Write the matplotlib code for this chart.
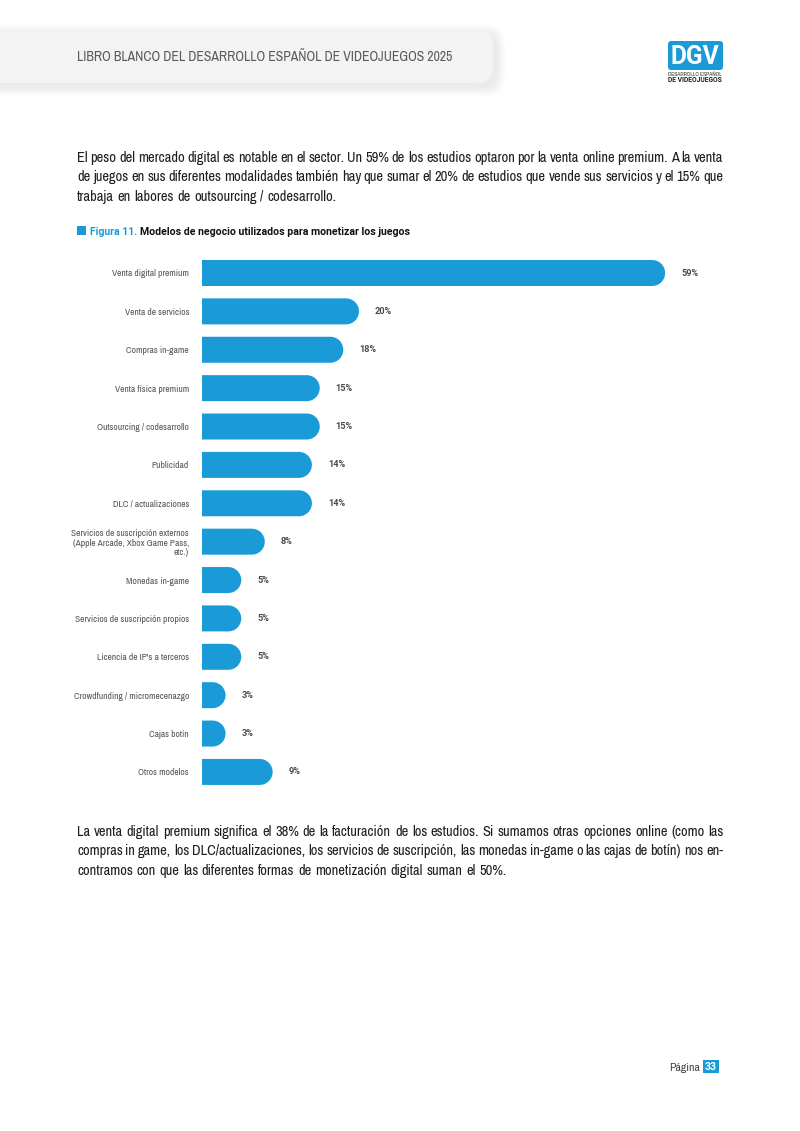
import matplotlib
matplotlib.use("Agg")
import matplotlib.pyplot as plt
from matplotlib import font_manager
from matplotlib.patches import FancyBboxPatch, Rectangle, PathPatch
from matplotlib.path import Path
import numpy as np

# fonts: the page uses a condensed face, take a narrow one if there is any
ttf = font_manager.fontManager.ttflist
narrow = sorted({f.name for f in ttf
                 if 'narrow' in f.name.lower() or 'condensed' in f.name.lower()})
FONT = narrow[0] if narrow else 'Liberation Sans'
NARROW = bool(narrow)


def is_bold(f):
    w = f.weight
    return (isinstance(w, int) and w >= 600) or str(w).lower() in ('bold', 'heavy', 'black', 'semibold', 'demibold')


has_bold = any(f.name == FONT and is_bold(f) for f in ttf)
names = {f.name for f in ttf}
BFONT = FONT if has_bold else ('Roboto' if 'Roboto' in names else 'Liberation Sans')
plt.rcParams['font.family'] = [FONT, 'DejaVu Sans']
BFAM = [BFONT, 'DejaVu Sans']
k = 1.0 if NARROW else 0.86   # shrink a bit when only a normal width face exists

BLUE = '#1a9bd7'
GREY = '#555555'

# data
categories = ["Venta digital premium", "Venta de servicios", "Compras in-game",
              "Venta física premium", "Outsourcing / codesarrollo", "Publicidad",
              "DLC / actualizaciones",
              "Servicios de suscripción externos\n(Apple Arcade, Xbox Game Pass,\netc.)",
              "Monedas in-game", "Servicios de suscripción propios",
              "Licencia de IP's a terceros", "Crowdfunding / micromecenazgo",
              "Cajas botín", "Otros modelos"]
values = [59, 20, 18, 15, 15, 14, 14, 8, 5, 5, 5, 3, 3, 9]

header = "LIBRO BLANCO DEL DESARROLLO ESPAÑOL DE VIDEOJUEGOS 2025"
intro = ["El peso del mercado digital es notable en el sector. Un 59% de los estudios optaron por la venta online premium. A la venta",
         "de juegos en sus diferentes modalidades también hay que sumar el 20% de estudios que vende sus servicios y el 15% que",
         "trabaja en labores de outsourcing / codesarrollo."]
outro = ["La venta digital premium significa el 38% de la facturación de los estudios. Si sumamos otras opciones online (como las",
         "compras in game, los DLC/actualizaciones, los servicios de suscripción, las monedas in-game o las cajas de botín) nos en-",
         "contramos con que las diferentes formas de monetización digital suman el 50%."]
fig_num = "Figura 11."
fig_title = "Modelos de negocio utilizados para monetizar los juegos"
page = "33"

W, H = 800, 1131
fig = plt.figure(figsize=(W / 100, H / 100), dpi=100)
bg = fig.add_axes([0, 0, 1, 1])
bg.set_xlim(0, W)
bg.set_ylim(H, 0)
bg.axis('off')
r = fig.canvas.get_renderer()


def fit_text(x, y, s, width, size, **kw):
    # draw text and shrink it if it runs wider than the page version
    t = bg.text(x, y, s, fontsize=size, **kw)
    w = t.get_window_extent(r).width
    if w > width:
        t.set_fontsize(size * width / w)
    return t


# header band with soft shadow
for i in range(10):
    g = 2 + i * 1.8
    bg.add_patch(FancyBboxPatch((-40 + 3 - g * 0.2, 30 + 4 - g / 2), 533 + g * 0.7, 53 + g,
                                boxstyle="round,pad=0,rounding_size=18",
                                fc='#9a9aae', ec='none', alpha=0.02))
bg.add_patch(FancyBboxPatch((-40, 30), 533, 53, boxstyle="round,pad=0,rounding_size=15",
                            fc='#f3f3f4', ec='none'))
fit_text(77, 61, header, 377, 10.5, color='#5a5a5a', va='baseline')

# logo
bg.add_patch(FancyBboxPatch((668, 41), 55, 29, boxstyle="round,pad=0,rounding_size=3",
                            fc=BLUE, ec='none'))
fit_text(671, 56.5, "DGV", 49, 19, family=BFAM, fontweight='bold', color='white', va='center')
fit_text(668, 74, "DESARROLLO ESPAÑOL", 55, 4.6, color='#333333', va='center')
fit_text(668, 80, "DE VIDEOJUEGOS", 55, 5.4, family=BFAM, fontweight='bold',
         color='#222222', va='center')


def justify(lines, x0, x1, y0, dy, size, color):
    # place words one by one so that the lines fill the column like the page
    rows = []
    for line in lines:
        ts = [bg.text(0, 0, w, fontsize=size, color=color, va='baseline') for w in line.split()]
        rows.append((ts, [t.get_window_extent(r).width for t in ts]))
    gap = size * 1.389 * 0.2
    need = max(sum(ws) + gap * (len(ws) - 1) for ts, ws in rows[:-1])
    s = min(1.0, (x1 - x0) / need)
    for i, (ts, ws) in enumerate(rows):
        ws = [w * s for w in ws]
        for t in ts:
            t.set_fontsize(size * s)
        if i < len(rows) - 1 and len(ts) > 1:
            sp = (x1 - x0 - sum(ws)) / (len(ts) - 1)
        else:
            sp = gap * s * 1.3
        x = x0
        for t, w in zip(ts, ws):
            t.set_position((x, y0 + i * dy))
            x += w + sp


justify(intro, 77, 723, 162, 19.3, 10.8, '#1e1e1e')
justify(outro, 77, 723, 836, 19.3, 10.8, '#1e1e1e')

# figure title: "Figura 11." runs 90-137 px, the rest up to 413 px
bg.add_patch(Rectangle((77, 226), 9, 9, fc=BLUE, ec='none'))
ta = bg.text(90, 235, fig_num, fontsize=9, family=BFAM, fontweight='bold', color=BLUE,
             va='baseline')
tb = bg.text(140, 235, fig_title, fontsize=9, family=BFAM, fontweight='bold',
             color='#111111', va='baseline')
sc = min(47 / ta.get_window_extent(r).width, 273 / tb.get_window_extent(r).width, 1.0)
ta.set_fontsize(9 * sc)
tb.set_fontsize(9 * sc)
tb.set_x(90 + ta.get_window_extent(r).width + 3)

# page number
bg.text(700, 1071, "Página", fontsize=8.4 * k, color='#444444', ha='right', va='baseline')
bg.add_patch(Rectangle((703, 1059.5), 15.5, 13.5, fc=BLUE, ec='none'))
bg.text(710.75, 1066.5, page, fontsize=7.6 * k, family=BFAM, fontweight='bold', color='white',
        ha='center', va='center')

# chart
PXPCT = 7.85          # pixels per percent point
STEP = 38.38          # pixels between bars
XMAX = 70
left, top = 202, 273 - STEP / 2
bottom = top + STEP * len(values)
ax = fig.add_axes([left / W, 1 - bottom / H, XMAX * PXPCT / W, (bottom - top) / H])
ax.set_xlim(0, XMAX)
ax.set_ylim(len(values) - 0.5, -0.5)
for s in ax.spines.values():
    s.set_visible(False)
ax.set_xticks([])
ax.patch.set_visible(False)

y = np.arange(len(values))
v = np.array(values, dtype=float)
hh = 26 / STEP          # bar thickness in category units
rx = 13 / PXPCT         # radius of the round end in percent units
arc = Path.arc(-90, 90)
for yi, vi in zip(y, v):
    c = max(vi - rx, 0)
    av = arc.vertices * [rx, hh / 2] + [c, yi]
    verts = np.vstack([[0, yi - hh / 2], av, [0, yi + hh / 2], [0, yi - hh / 2]])
    codes = [Path.MOVETO, Path.LINETO] + list(arc.codes[1:]) + [Path.LINETO, Path.CLOSEPOLY]
    ax.add_patch(PathPatch(Path(verts, codes), fc=BLUE, ec='none'))
    ax.text(vi + 16 / PXPCT, yi, f"{int(vi)}%", fontsize=6.6, family=BFAM, fontweight='bold',
            color='#4a4a4a', va='center', ha='left')

ax.set_yticks(y)
ax.set_yticklabels(categories, fontsize=6.8 * k, color=GREY, linespacing=1.1)
ax.tick_params(axis='y', length=0, pad=13 / 1.389)

fig.savefig("out.png", dpi=100)
